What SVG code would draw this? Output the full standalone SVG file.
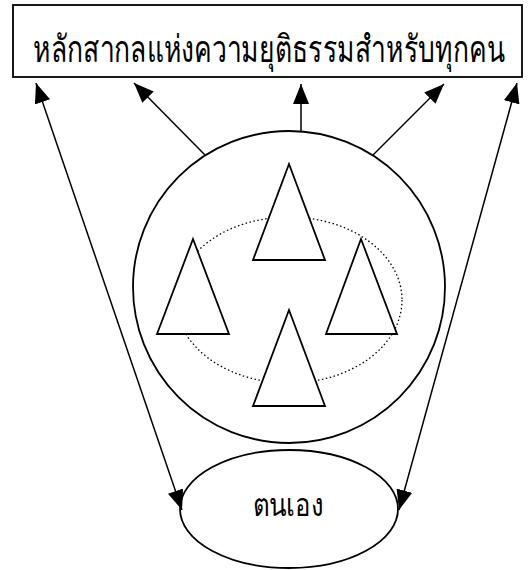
<svg xmlns="http://www.w3.org/2000/svg" width="532" height="570" viewBox="0 0 532 570">
<style>
.ln{stroke:#000;stroke-width:1.5;fill:none}
.sh{stroke:#000;stroke-width:1.8;fill:#fff}
.tx{font-family:"Liberation Serif","Noto Sans",serif;font-weight:300;fill:#000}
</style>
<defs>
<marker id="ah" viewBox="0 0 20 16" refX="20" refY="8" markerWidth="20" markerHeight="16" markerUnits="userSpaceOnUse" orient="auto-start-reverse">
<path d="M0,0 L20,8 L0,16 Z" fill="#000"/>
</marker>
</defs>
<rect width="532" height="570" fill="#fff"/>
<g id="box">
<rect class="sh" x="13" y="5" width="509" height="72"/>
<text class="tx" transform="translate(269,62) scale(1,1.35)" x="0" y="0" font-size="27.5" text-anchor="middle" textLength="472" lengthAdjust="spacingAndGlyphs">หลักสากลแห่งความยุติธรรมสำหรับทุกคน</text>
</g>
<g id="circle">
<circle class="sh" cx="289" cy="287" r="156"/>
<ellipse cx="289" cy="300" rx="113" ry="83" fill="none" stroke="#000" stroke-width="1.3" stroke-dasharray="1.5,2.5"/>
<polygon class="sh" points="289,164 253,260 325,260"/>
<polygon class="sh" points="193,239 157,334 229,334"/>
<polygon class="sh" points="361,239 326,334 397,334"/>
<polygon class="sh" points="289,310 253,406 325,406"/>
</g>
<g id="self">
<ellipse class="sh" cx="289" cy="509" rx="109" ry="59"/>
<text class="tx" transform="translate(288,516) scale(1,1.25)" x="0" y="0" font-size="25" text-anchor="middle" textLength="71" lengthAdjust="spacingAndGlyphs">ตนเอง</text>
</g>
<g id="connectors">
<line class="ln" x1="205" y1="155" x2="134" y2="83" marker-end="url(#ah)"/>
<line class="ln" x1="301" y1="131" x2="301" y2="84" marker-end="url(#ah)"/>
<line class="ln" x1="373" y1="155" x2="444" y2="84" marker-end="url(#ah)"/>
<line class="ln" x1="36" y1="83" x2="182" y2="510" marker-start="url(#ah)" marker-end="url(#ah)"/>
<line class="ln" x1="517" y1="83" x2="399" y2="510" marker-start="url(#ah)" marker-end="url(#ah)"/>
</g>
</svg>
